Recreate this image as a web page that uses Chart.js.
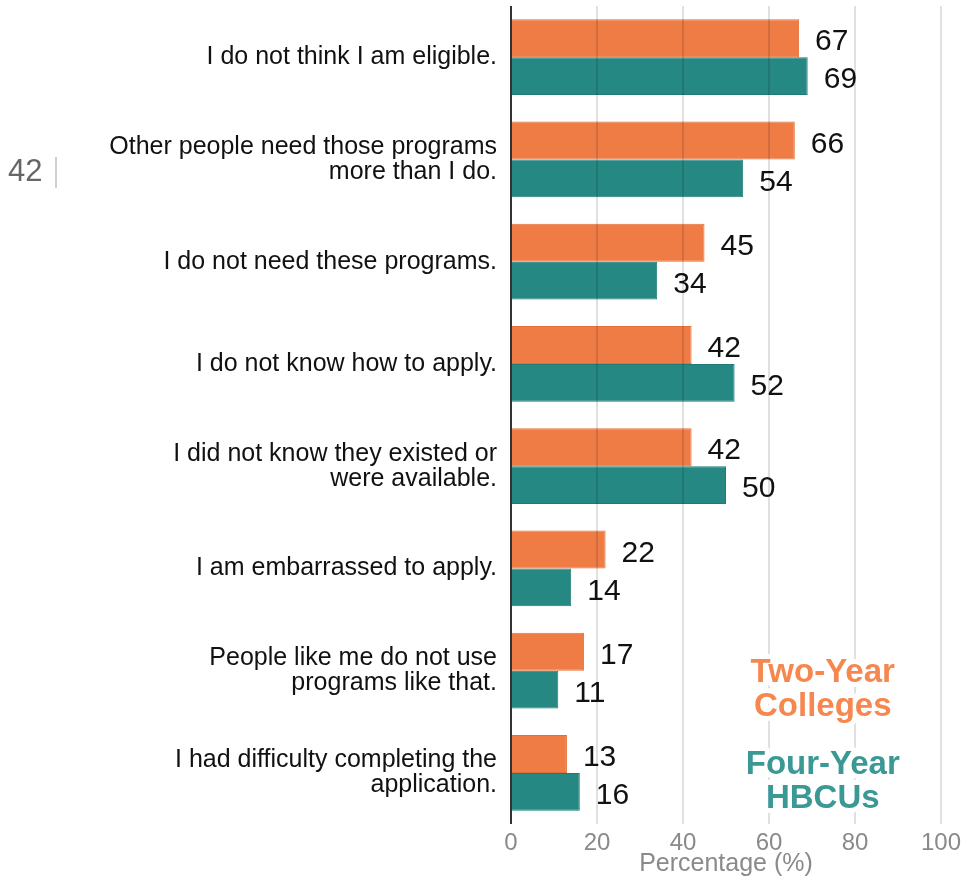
<!DOCTYPE html>
<html lang="en">
<head>
  <meta charset="UTF-8">
  <title>Reasons for not using programs</title>
  <script src="https://cdn.jsdelivr.net/npm/chart.js@4.4.1/dist/chart.umd.min.js"></script>
  <style>
    body { margin: 0; background: #fff; }
    #wrap { position: relative; width: 973px; height: 879px; }
    #stray { position: absolute; left: 8px; top: 153px; font: 31px "Liberation Sans", Arial, sans-serif; color: #666; }
    #strayBar { position: absolute; left: 55px; top: 157px; width: 2px; height: 31px; background: #d0d0d0; }
  </style>
</head>
<body>
<div id="wrap">
  <canvas id="chart" width="973" height="879"></canvas>
  <div id="stray">42</div>
  <div id="strayBar"></div>
</div>

<script>
const categories = [
  'I do not think I am eligible.',
  ['Other people need those programs', 'more than I do.'],
  'I do not need these programs.',
  'I do not know how to apply.',
  ['I did not know they existed or', 'were available.'],
  'I am embarrassed to apply.',
  ['People like me do not use', 'programs like that.'],
  ['I had difficulty completing the', 'application.']
];
const twoYear = [67, 66, 45, 42, 42, 22, 17, 13];
const fourYear = [69, 54, 34, 52, 50, 14, 11, 16];
const xTicks = [0, 20, 40, 60, 80, 100];
const legendTwo = ['Two-Year', 'Colleges'];
const legendFour = ['Four-Year', 'HBCUs'];

const FONT = '"Liberation Sans", Arial, sans-serif';
const ORANGE = '#f07c45';
const TEAL = '#258883';

// numbers at the end of each bar
const barLabels = {
  id: 'barLabels',
  afterDatasetsDraw(chart) {
    const ctx = chart.ctx;
    ctx.save();
    ctx.font = '30px ' + FONT;
    ctx.fillStyle = '#111';
    ctx.textAlign = 'left';
    ctx.textBaseline = 'middle';
    chart.data.datasets.forEach((ds, i) => {
      chart.getDatasetMeta(i).data.forEach((bar, j) => {
        ctx.fillText(ds.data[j], bar.x + 16, bar.y + 4);
      });
    });
    ctx.restore();
  }
};

// legend text sitting inside the plot, bottom right
const textLegend = {
  id: 'textLegend',
  afterDraw(chart) {
    const ctx = chart.ctx;
    const x = chart.scales.x.getPixelForValue(72.5);
    const y6 = chart.scales.y.getPixelForValue(6);
    const y7 = chart.scales.y.getPixelForValue(7);
    ctx.save();
    ctx.font = 'bold 33px ' + FONT;
    ctx.textAlign = 'center';
    ctx.textBaseline = 'middle';
    ctx.lineJoin = 'round';
    const put = (lines, y0, color) => {
      lines.forEach((t, k) => {
        const y = y0 + k * 34;
        ctx.strokeStyle = '#fff';
        ctx.lineWidth = 10;
        ctx.strokeText(t, x, y);
        ctx.fillStyle = color;
        ctx.fillText(t, x, y);
      });
    };
    put(legendTwo, y6 + 2, '#f5874f');
    put(legendFour, y7 - 8, '#3a9994');
    ctx.restore();
  }
};

const ctx = document.getElementById('chart').getContext('2d');
const myChart = new Chart(ctx, {
  type: 'bar',
  data: {
    labels: categories,
    datasets: [{
      label: 'Two-Year Colleges',
      data: twoYear,
      backgroundColor: ORANGE,
      borderColor: '#e2703b',
      borderWidth: 1
    }, {
      label: 'Four-Year HBCUs',
      data: fourYear,
      backgroundColor: TEAL,
      borderColor: '#1f7a75',
      borderWidth: 1
    }]
  },
  options: {
    indexAxis: 'y',
    responsive: false,
    animation: false,
    categoryPercentage: 0.74,
    barPercentage: 1.0,
    layout: { padding: { top: 6, right: 32, left: 0, bottom: 0 } },
    plugins: {
      legend: { display: false },
      tooltip: { enabled: false }
    },
    scales: {
      x: {
        min: 0,
        max: 100,
        afterBuildTicks(scale) {
          scale.ticks = xTicks.map(v => ({ value: v }));
        },
        afterFit(scale) {
          scale.height = 55;
          scale.paddingLeft = 0;
          scale.paddingRight = 0;
        },
        grid: {
          z: 1,
          drawTicks: false,
          lineWidth: 2,
          color: c => c.tick && c.tick.value === 0 ? '#333' : 'rgba(0,0,0,0.12)'
        },
        border: { display: false },
        ticks: {
          padding: 5,
          color: '#8a8a8a',
          font: { family: FONT, size: 24 }
        },
        title: {
          display: true,
          text: 'Percentage (%)',
          color: '#8a8a8a',
          font: { family: FONT, size: 25 },
          padding: { top: 0, bottom: 0 }
        }
      },
      y: {
        afterFit(scale) {
          scale.width = 511;
          scale.paddingTop = 0;
          scale.paddingBottom = 0;
        },
        grid: { display: false, drawTicks: false },
        border: { display: false },
        ticks: {
          padding: 14,
          color: '#111',
          font: { family: FONT, size: 25, lineHeight: 1.0 }
        }
      }
    }
  },
  plugins: [barLabels, textLegend]
});
</script>
</body>
</html>
